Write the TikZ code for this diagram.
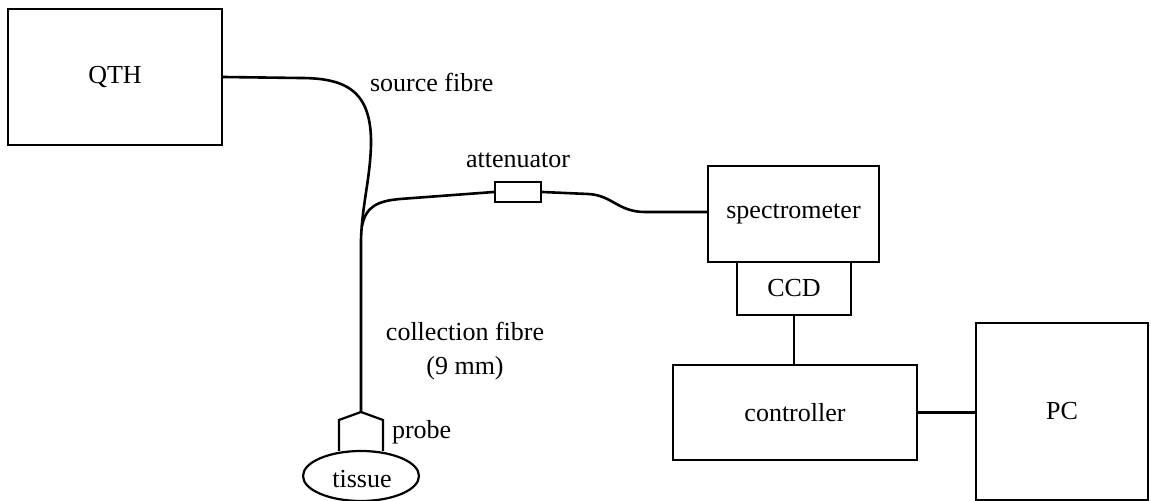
\documentclass[tikz,border=0pt]{standalone}
\usepackage{fontspec}
\setmainfont{Liberation Serif}
\usetikzlibrary{shapes.geometric}
\begin{document}
\begin{tikzpicture}[x=0.5pt,y=-0.5pt,
  every node/.style={font=\fontsize{13}{17}\selectfont},
  box/.style={draw,line width=1.1pt,inner sep=0pt},
  wire/.style={line width=1.1pt},
  fibre/.style={line width=1.3pt,line join=round}]
\useasboundingbox (0,0) rectangle (1151,501);

% instrument boxes
\node[box,minimum width=107pt,minimum height=68pt] (qth) at (115,77) {\raisebox{-3pt}{QTH}};
\node[box,minimum width=85.5pt,minimum height=48pt] (spec) at (793.5,214) {spectrometer};
\node[box,minimum width=57pt,minimum height=26.5pt] (ccd) at (794,288.5) {CCD};
\node[box,minimum width=122pt,minimum height=47.5pt] (ctrl) at (795,412.5) {controller};
\node[box,minimum width=86pt,minimum height=88.5pt] (pc) at (1062,411.5) {PC};
\node[box,minimum width=23pt,minimum height=10pt] (att) at (518,192) {};

% tissue sample and probe head
\node[draw,line width=1.1pt,ellipse,inner sep=0pt,minimum width=58pt,minimum height=25pt] (tissue) at (361,476) {};
\node at (362,479) {tissue};
\coordinate (tip) at (361,412);
\draw[wire,line join=miter] (339,451) -- (339,420) -- (tip) -- (383,420) -- (383,451);
\node[anchor=west] (probe) at (385,432) {probe};

% fibres
\coordinate (split) at (362,226);
\draw[fibre] (qth.east) -- (300,78) .. controls (345,78) and (372,90) .. (371,145)
  .. controls (370,180) and (362,205) .. (361,240) -- (tip);
\draw[fibre] (split) .. controls (366,206) and (378,201) .. (400,199) -- (att.west);
\draw[fibre] (att.east) -- (588,194) .. controls (612,195) and (618,212) .. (645,212) -- (spec.west |- 0,212);

% electrical links
\draw[wire] (ccd.south) -- (ccd.south |- ctrl.north);
\draw[wire] (ctrl.east) -- (ctrl.east -| pc.west);

% labels
\node[anchor=west] (srclbl) at (363,82) {source fibre};
\node (attlbl) at (518,160) {attenuator};
\node[align=center] (collbl) at (465,351) {collection fibre\\(9 mm)};
\end{tikzpicture}
\end{document}
